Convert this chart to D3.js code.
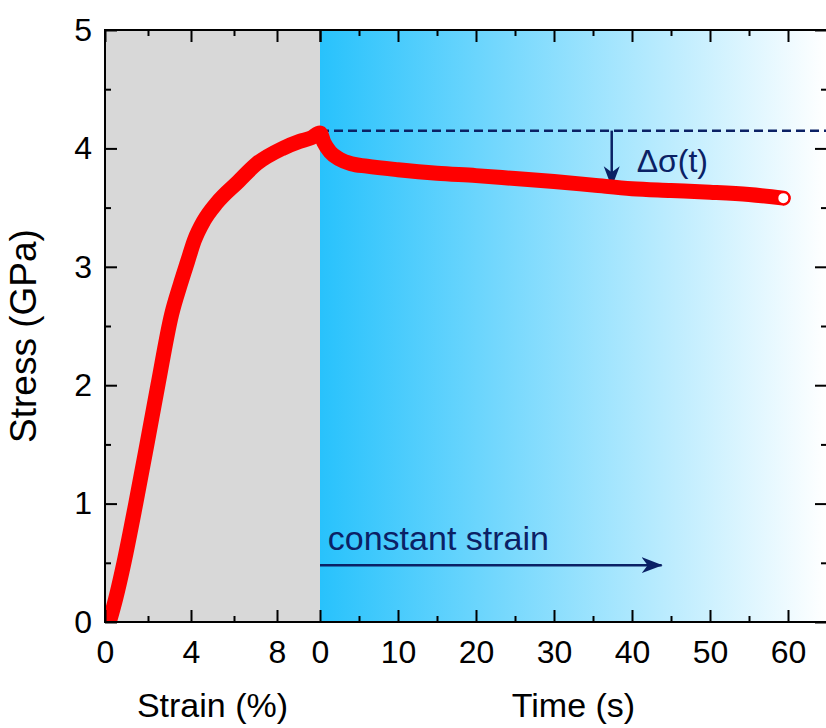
<!DOCTYPE html>
<html>
<head>
<meta charset="utf-8">
<script src="https://cdn.jsdelivr.net/npm/d3@7"></script>
<style>
  body { margin: 0; background: #fff; }
  svg text { font-family: "Liberation Sans", Arial, sans-serif; }
</style>
</head>
<body>
<svg id="chart" width="826" height="728"></svg>
<script>
// stress–strain loading, then relaxation at constant strain

// loading part (strain %, stress GPa)
const strainVals   = [0.2, 0.5, 0.88, 1.43, 1.95, 2.46, 3.1, 3.5, 3.85, 4.15, 4.6, 5.2, 6.2, 7.05, 8.26, 9.05, 9.6, 10.0];
const strainStress = [0, 0.2, 0.5, 1.0, 1.5, 2.0, 2.6, 2.85, 3.05, 3.22, 3.39, 3.54, 3.72, 3.87, 4.0, 4.06, 4.09, 4.13];

// relaxation part (time s, stress GPa)
const timeVals   = [0, 0.5, 1.3, 2.5, 4, 6, 10, 15, 20, 25, 30, 35, 40, 45, 50, 55, 59.4];
const timeStress = [4.13, 4.05, 3.97, 3.91, 3.87, 3.85, 3.82, 3.79, 3.77, 3.745, 3.72, 3.69, 3.66, 3.645, 3.63, 3.61, 3.58];

// ticks
const strainMajor = [0, 4, 8];
const strainMinor = [2, 6];
const timeMajor = [0, 10, 20, 30, 40, 50, 60];
const timeMinor = [5, 15, 25, 35, 45, 55];
const stressMajor = [0, 1, 2, 3, 4, 5];
const stressMinor = [0.5, 1.5, 2.5, 3.5, 4.5];

const peakStress = 4.15;     // dashed reference level
const arrowTime = 37.4;      // Δσ(t) arrow position
const arrowEnd = 3.68;

const svg = d3.select("#chart");
const mLeft = 105, mRight = 827, mTop = 30, mBottom = 622, mSplit = 320;
const navy = "#0b2165";

const xS = d3.scaleLinear().domain([0, 10]).range([mLeft, mSplit]);
const xT = d3.scaleLinear().domain([0, 65]).range([mSplit, mRight]);
const y = d3.scaleLinear().domain([0, 5]).range([mBottom, mTop]);

const defs = svg.append("defs");
const grad = defs.append("linearGradient")
    .attr("id", "relax")
    .attr("gradientUnits", "userSpaceOnUse")
    .attr("x1", mSplit).attr("x2", mRight).attr("y1", 0).attr("y2", 0);
grad.append("stop").attr("offset", 0).attr("stop-color", "#28c2fc");
grad.append("stop").attr("offset", 1).attr("stop-color", "#ffffff");

defs.append("clipPath").attr("id", "plot")
  .append("rect").attr("x", mLeft).attr("y", mTop)
    .attr("width", mRight - mLeft).attr("height", mBottom - mTop);

defs.append("marker")
    .attr("id", "head")
    .attr("markerUnits", "userSpaceOnUse")
    .attr("markerWidth", 24).attr("markerHeight", 18)
    .attr("refX", 20).attr("refY", 8)
    .attr("orient", "auto")
  .append("path")
    .attr("d", "M0,0 L21,8 L0,16 L6,8 Z")
    .attr("fill", navy);

// backgrounds
svg.append("rect")
    .attr("x", xS(0)).attr("y", y(5))
    .attr("width", xS(10) - xS(0)).attr("height", y(0) - y(5))
    .attr("fill", "#d8d8d8");
svg.append("rect")
    .attr("x", xT(0)).attr("y", y(5))
    .attr("width", xT(65) - xT(0)).attr("height", y(0) - y(5))
    .attr("fill", "url(#relax)");

// dashed peak level
svg.append("line")
    .attr("x1", xT(0)).attr("x2", xT(65))
    .attr("y1", y(peakStress)).attr("y2", y(peakStress))
    .attr("stroke", navy).attr("stroke-width", 2.5)
    .attr("stroke-dasharray", "9,5");

// Δσ arrow
svg.append("line")
    .attr("x1", xT(arrowTime)).attr("x2", xT(arrowTime))
    .attr("y1", y(peakStress)).attr("y2", y(arrowEnd))
    .attr("stroke", navy).attr("stroke-width", 2.5)
    .attr("marker-end", "url(#head)");

svg.append("text")
    .attr("x", xT(40.6)).attr("y", y(3.8))
    .attr("font-size", 32).attr("fill", navy)
    .text("Δσ(t)");

// constant strain arrow
svg.append("line")
    .attr("x1", xT(0)).attr("x2", xT(43.8))
    .attr("y1", y(0.48)).attr("y2", y(0.48))
    .attr("stroke", navy).attr("stroke-width", 2.5)
    .attr("marker-end", "url(#head)");

svg.append("text")
    .attr("x", xT(1)).attr("y", y(0.61))
    .attr("font-size", 34).attr("fill", navy)
    .text("constant strain");

// curve: both segments mapped through their own x scale
const pts = strainVals.map((s, i) => [xS(s), y(strainStress[i])])
  .concat(timeVals.slice(1).map((t, i) => [xT(t), y(timeStress[i + 1])]));

svg.append("path")
    .datum(pts)
    .attr("clip-path", "url(#plot)")
    .attr("fill", "none")
    .attr("stroke", "#ff0000")
    .attr("stroke-width", 15)
    .attr("stroke-linejoin", "round")
    .attr("stroke-linecap", "round")
    .attr("d", d3.line().curve(d3.curveMonotoneX));

svg.append("circle")
    .attr("cx", xT(timeVals[timeVals.length - 1]))
    .attr("cy", y(timeStress[timeStress.length - 1]))
    .attr("r", 6)
    .attr("fill", "#fff")
    .attr("stroke", "#ff0000").attr("stroke-width", 2);

// axes, ticks pointing inward
function drawAxis(gen, tx, ty) {
  const g = svg.append("g").attr("transform", `translate(${tx},${ty})`).call(gen);
  g.select(".domain").remove();
  g.selectAll(".tick line").attr("stroke", "#000").attr("stroke-width", 2);
  g.selectAll(".tick text").attr("font-size", 32).attr("fill", "#000")
    .style("font-family", '"Liberation Sans", Arial, sans-serif');
  return g;
}

const fmt = d3.format("d");
drawAxis(d3.axisBottom(xS).tickValues(strainMajor).tickSize(-12).tickPadding(18).tickFormat(fmt), 0, mBottom);
drawAxis(d3.axisBottom(xS).tickValues(strainMinor).tickSize(-6).tickFormat(""), 0, mBottom);
drawAxis(d3.axisBottom(xT).tickValues(timeMajor).tickSize(-12).tickPadding(18).tickFormat(fmt), 0, mBottom);
drawAxis(d3.axisBottom(xT).tickValues(timeMinor).tickSize(-6).tickFormat(""), 0, mBottom);

drawAxis(d3.axisTop(xS).tickValues(strainMajor.concat([10])).tickSize(-12).tickFormat(""), 0, mTop);
drawAxis(d3.axisTop(xS).tickValues(strainMinor).tickSize(-6).tickFormat(""), 0, mTop);
drawAxis(d3.axisTop(xT).tickValues(timeMajor).tickSize(-12).tickFormat(""), 0, mTop);
drawAxis(d3.axisTop(xT).tickValues(timeMinor).tickSize(-6).tickFormat(""), 0, mTop);

drawAxis(d3.axisLeft(y).tickValues(stressMajor).tickSize(-12).tickPadding(13).tickFormat(fmt), mLeft, 0);
drawAxis(d3.axisLeft(y).tickValues(stressMinor).tickSize(-6).tickFormat(""), mLeft, 0);
drawAxis(d3.axisRight(y).tickValues(stressMajor).tickSize(-12).tickFormat(""), mRight, 0);
drawAxis(d3.axisRight(y).tickValues(stressMinor).tickSize(-6).tickFormat(""), mRight, 0);

// frame
svg.append("rect")
    .attr("x", mLeft).attr("y", mTop)
    .attr("width", mRight - mLeft).attr("height", mBottom - mTop)
    .attr("fill", "none").attr("stroke", "#000").attr("stroke-width", 2);

// titles
svg.append("text")
    .attr("x", (xS(0) + xS(10)) / 2).attr("y", 717)
    .attr("text-anchor", "middle").attr("font-size", 34)
    .text("Strain (%)");
svg.append("text")
    .attr("x", (xT(0) + xT(65)) / 2).attr("y", 717)
    .attr("text-anchor", "middle").attr("font-size", 34)
    .text("Time (s)");
svg.append("text")
    .attr("transform", "translate(36,336) rotate(-90)")
    .attr("text-anchor", "middle").attr("font-size", 37)
    .text("Stress (GPa)");
</script>
</body>
</html>
